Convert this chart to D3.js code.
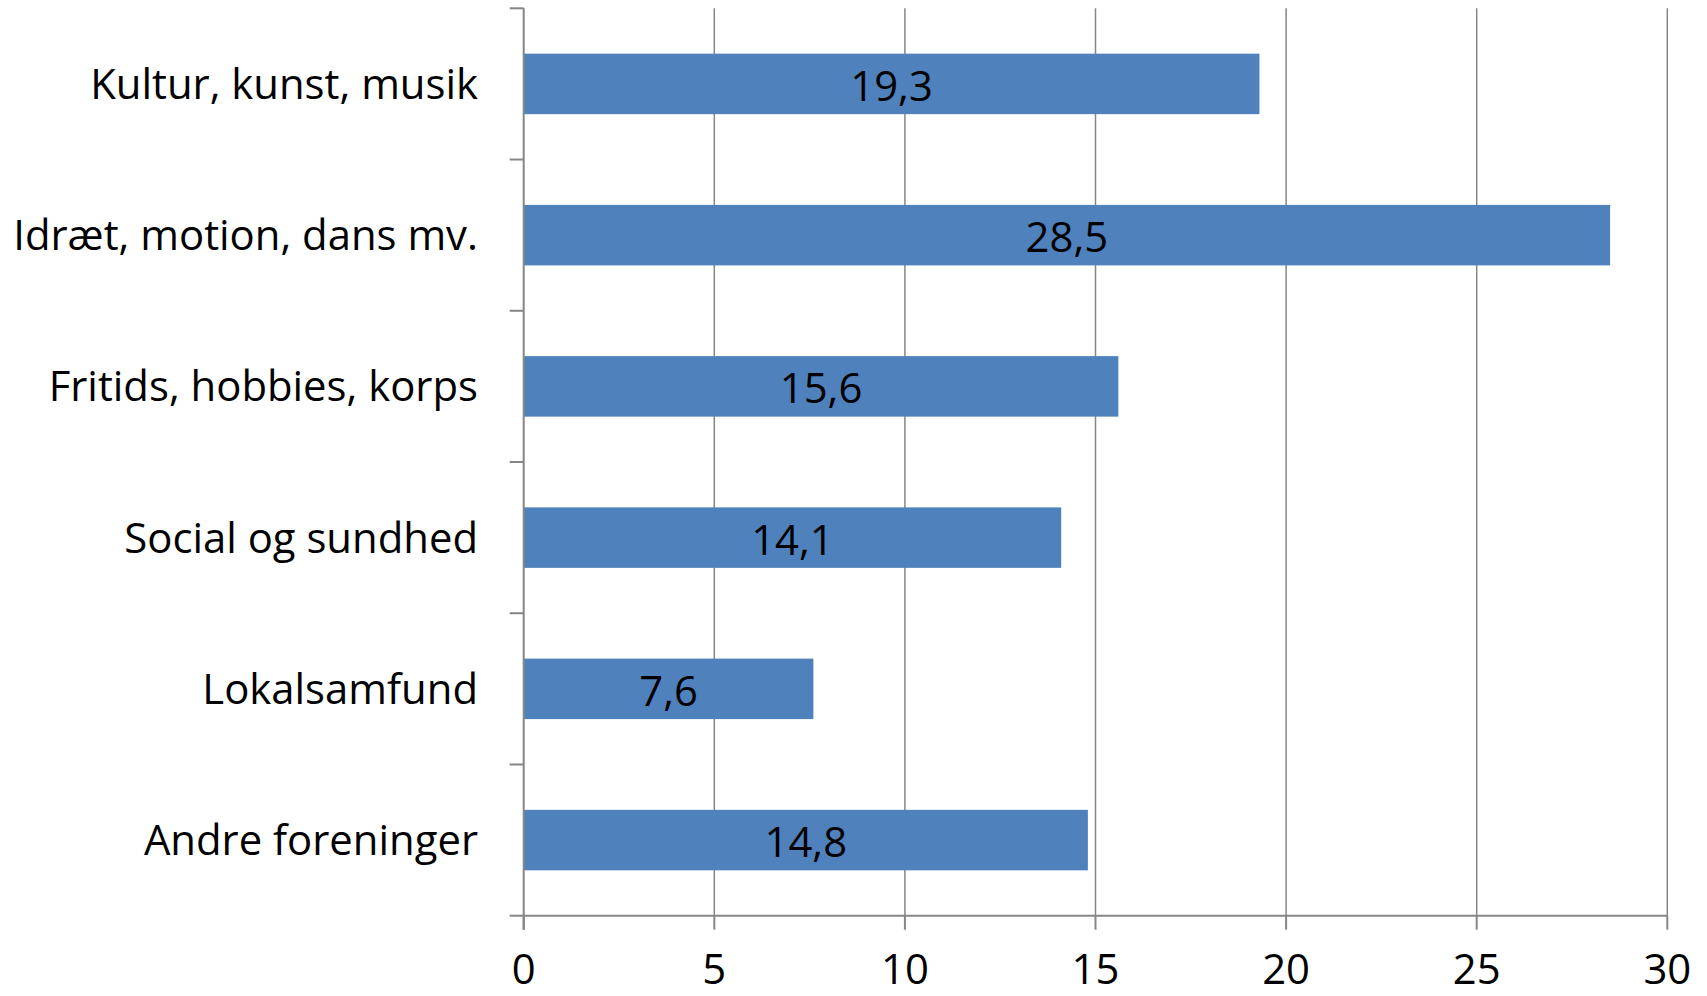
<!DOCTYPE html>
<html><head><meta charset="utf-8">
<script src="https://cdn.jsdelivr.net/npm/d3@7"></script>
<style>html,body{margin:0;padding:0;background:#fff;}svg{display:block;}</style>
</head><body>
<svg id="chart" width="1707" height="996"></svg>
<script>
const categories = ["Kultur, kunst, musik","Idræt, motion, dans mv.","Fritids, hobbies, korps","Social og sundhed","Lokalsamfund","Andre foreninger"];
const values = [19.3, 28.5, 15.6, 14.1, 7.6, 14.8];
const xTicks = [0,5,10,15,20,25,30];
const valueLabels = ["19,3","28,5","15,6","14,1","7,6","14,8"];

const svg = d3.select("#chart");
const plotLeft = 523.7, plotRight = 1667.3, plotTop = 8.3, plotBottom = 915.7;
const font = "'Open Sans', sans-serif";

const x = d3.scaleLinear().domain([0,30]).range([plotLeft,plotRight]);
const y = d3.scaleBand().domain(categories).range([plotTop,plotBottom]).paddingInner(0.6).paddingOuter(0.3);
const step = y.step();

// font size fitting longest category label to ~465px
const probe = svg.append("text").attr("font-family",font).attr("font-size",40).text(categories[1]);
const w = probe.node().getComputedTextLength();
probe.remove();
const fs = 40*465/w;

// gridlines
svg.append("g").selectAll("line").data(xTicks.slice(1)).join("line")
  .attr("x1",d=>x(d)).attr("x2",d=>x(d)).attr("y1",plotTop).attr("y2",plotBottom)
  .attr("stroke","#868686").attr("stroke-width",1.5);

// bars
svg.append("g").selectAll("rect").data(values).join("rect")
  .attr("x",x(0)).attr("y",(d,i)=>y(categories[i]))
  .attr("width",d=>x(d)-x(0)).attr("height",y.bandwidth())
  .attr("fill","#4F81BD");

// axes
const axisColor = "#868686";
svg.append("line").attr("x1",plotLeft).attr("x2",plotLeft).attr("y1",plotTop).attr("y2",plotBottom+14).attr("stroke",axisColor).attr("stroke-width",2);
svg.append("line").attr("x1",plotLeft).attr("x2",plotRight).attr("y1",plotBottom).attr("y2",plotBottom).attr("stroke",axisColor).attr("stroke-width",2);
// y ticks at band boundaries
svg.append("g").selectAll("line").data(d3.range(categories.length+1)).join("line")
  .attr("x1",plotLeft-14).attr("x2",plotLeft).attr("y1",i=>plotTop+i*step).attr("y2",i=>plotTop+i*step)
  .attr("stroke",axisColor).attr("stroke-width",2);
// x ticks
svg.append("g").selectAll("line").data(xTicks).join("line")
  .attr("x1",d=>x(d)).attr("x2",d=>x(d)).attr("y1",plotBottom).attr("y2",plotBottom+14)
  .attr("stroke",axisColor).attr("stroke-width",2);

// x tick labels
svg.append("g").selectAll("text").data(xTicks).join("text")
  .attr("x",d=>x(d)).attr("y",984).attr("text-anchor","middle")
  .attr("font-family",font).attr("font-size",fs).attr("fill","#000").text(d=>d);

// category labels
svg.append("g").selectAll("text").data(categories).join("text")
  .attr("x",478).attr("y",d=>y(d)+y.bandwidth()/2).attr("dy","0.36em")
  .attr("text-anchor","end").attr("font-family",font).attr("font-size",fs).attr("fill","#000").text(d=>d);

// value labels
svg.append("g").selectAll("text").data(values).join("text")
  .attr("x",d=>(x(0)+x(d))/2).attr("y",(d,i)=>y(categories[i])+y.bandwidth()/2+2).attr("dy","0.36em")
  .attr("text-anchor","middle").attr("font-family",font).attr("font-size",fs).attr("fill","#000")
  .text((d,i)=>valueLabels[i]);
</script>
</body></html>
